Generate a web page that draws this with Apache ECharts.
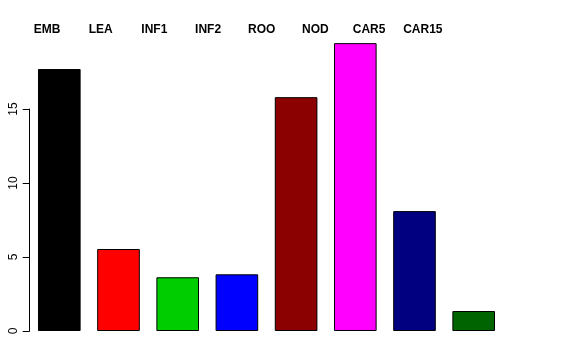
<!DOCTYPE html>
<html><head><meta charset="utf-8">
<script src="https://cdn.jsdelivr.net/npm/echarts@6/dist/echarts.min.js"></script>
<style>html,body{margin:0;padding:0;background:#fff}#c{width:576px;height:360px}</style>
</head><body><div id="c"></div>
<script>
var categories = ['EMB','LEA','INF1','INF2','ROO','NOD','CAR5','CAR15'];
var values = [17.7, 5.54, 3.63, 3.83, 15.8, 19.45, 8.1, 1.35];
var colors = ['#000000','#FF0000','#00CD00','#0000FF','#8B0000','#FF00FF','#000080','#006400'];
var yTicks = [0,5,10,15];

var chart = echarts.init(document.getElementById('c'), null, {renderer:'canvas'});
chart.setOption({
  animation:false,
  grid:[
    {left:29.7, width:473.6, top:109, bottom:29},
    {left:47, width:375.8, top:30, height:1}
  ],
  xAxis:[
    {type:'category', data:categories, gridIndex:0, show:false},
    {type:'category', data:categories, gridIndex:1, position:'top', boundaryGap:false,
     axisLine:{show:false}, axisTick:{show:false},
     axisLabel:{show:true, align:'center', verticalAlign:'middle', margin:0, interval:0,
       fontFamily:'Liberation Sans, Arial, sans-serif', fontSize:12, fontWeight:'bold', color:'#000'}}
  ],
  yAxis:[
    {type:'value', min:0, max:15, interval:5, gridIndex:0,
     axisLine:{show:true, lineStyle:{color:'#000', width:1}},
     axisTick:{show:true, length:7, lineStyle:{color:'#000'}},
     splitLine:{show:false},
     axisLabel:{rotate:90, margin:10, fontFamily:'Liberation Sans, Arial, sans-serif', fontSize:12, color:'#000',
       formatter:function(v){return yTicks.indexOf(v)>=0? String(v):'';}}},
    {type:'value', gridIndex:1, show:false}
  ],
  series:[{
    type:'bar', xAxisIndex:0, yAxisIndex:0, clip:false,
    barCategoryGap:'28%',
    data: values.map(function(v,i){return {value:v, itemStyle:{color:colors[i]}};}),
    itemStyle:{borderColor:'#000', borderWidth:1}
  }]
});
</script></body></html>
